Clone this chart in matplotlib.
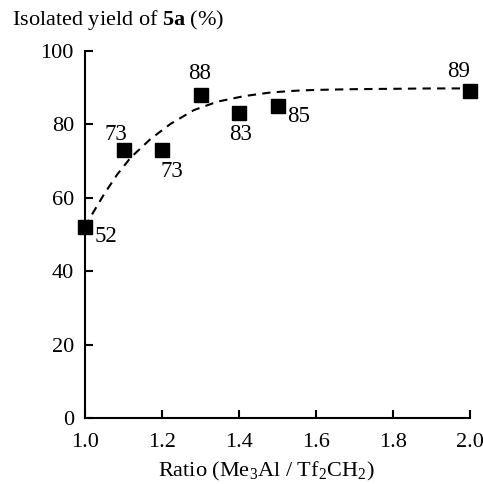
import matplotlib.pyplot as plt

plt.rcParams['font.family'] = ['Liberation Serif', 'DejaVu Serif']
plt.rcParams['mathtext.fontset'] = 'custom'
plt.rcParams['mathtext.rm'] = 'Liberation Serif'
plt.rcParams['mathtext.bf'] = 'Liberation Serif:bold'

# 実測データ
ratio = [1.0, 1.1, 1.2, 1.3, 1.4, 1.5, 2.0]
yield_pct = [52, 73, 73, 88, 83, 85, 89]
labels = ['52', '73', '73', '88', '83', '85', '89']
# label offsets in pixels (dx, dy)
offsets = [(21, -9), (-8, 16), (10, -21), (-1, 22), (2, -21), (21, -10), (-11, 20)]

# trend curve
curve_x = [1.0, 1.015, 1.049, 1.084, 1.119, 1.171, 1.223, 1.283, 1.344, 1.413,
           1.482, 1.551, 1.6, 1.7, 1.8, 1.9, 2.0]
curve_y = [52.0, 54.9, 60.9, 66.4, 71.0, 76.1, 80.2, 83.9, 86.2, 87.7,
           88.7, 89.2, 89.4, 89.6, 89.7, 89.8, 89.8]

fig = plt.figure(figsize=(4.83, 4.84), dpi=100)
ax = fig.add_axes([85 / 483, 66 / 484, 385 / 483, 367 / 484])

ax.plot(curve_x, curve_y, '--', color='black', lw=1.5, dashes=(4, 3), clip_on=False)
ax.plot(ratio, yield_pct, 's', color='black', ms=9.5, clip_on=False, zorder=3)

for x, y, t, (dx, dy) in zip(ratio, yield_pct, labels, offsets):
    ax.annotate(t, (x, y), xytext=(dx, dy), textcoords='offset pixels',
                ha='center', va='center', fontsize=16.5)

ax.set_xlim(1.0, 2.0)
ax.set_ylim(0, 100)
ax.set_xticks([1.0, 1.2, 1.4, 1.6, 1.8, 2.0])
ax.set_xticklabels(['1.0', '1.2', '1.4', '1.6', '1.8', '2.0'])
ax.set_yticks([0, 20, 40, 60, 80, 100])
ax.spines['top'].set_visible(False)
ax.spines['right'].set_visible(False)
ax.spines['left'].set_linewidth(1.5)
ax.spines['bottom'].set_linewidth(1.5)
ax.tick_params(direction='in', length=6, width=1.5, labelsize=16)
ax.tick_params(axis='x', pad=11)
ax.tick_params(axis='y', pad=8)

ax.set_xlabel(r'Ratio (Me$_3$Al / Tf$_2$CH$_2$)', fontsize=16)
ax.xaxis.set_label_coords(0.471, -0.115)
fig.text(12 / 483, 1 - 20 / 484, r'Isolated yield of $\mathbf{5a}$ (%)',
         fontsize=16, ha='left', va='center')

fig.savefig('out.png', dpi=100)
